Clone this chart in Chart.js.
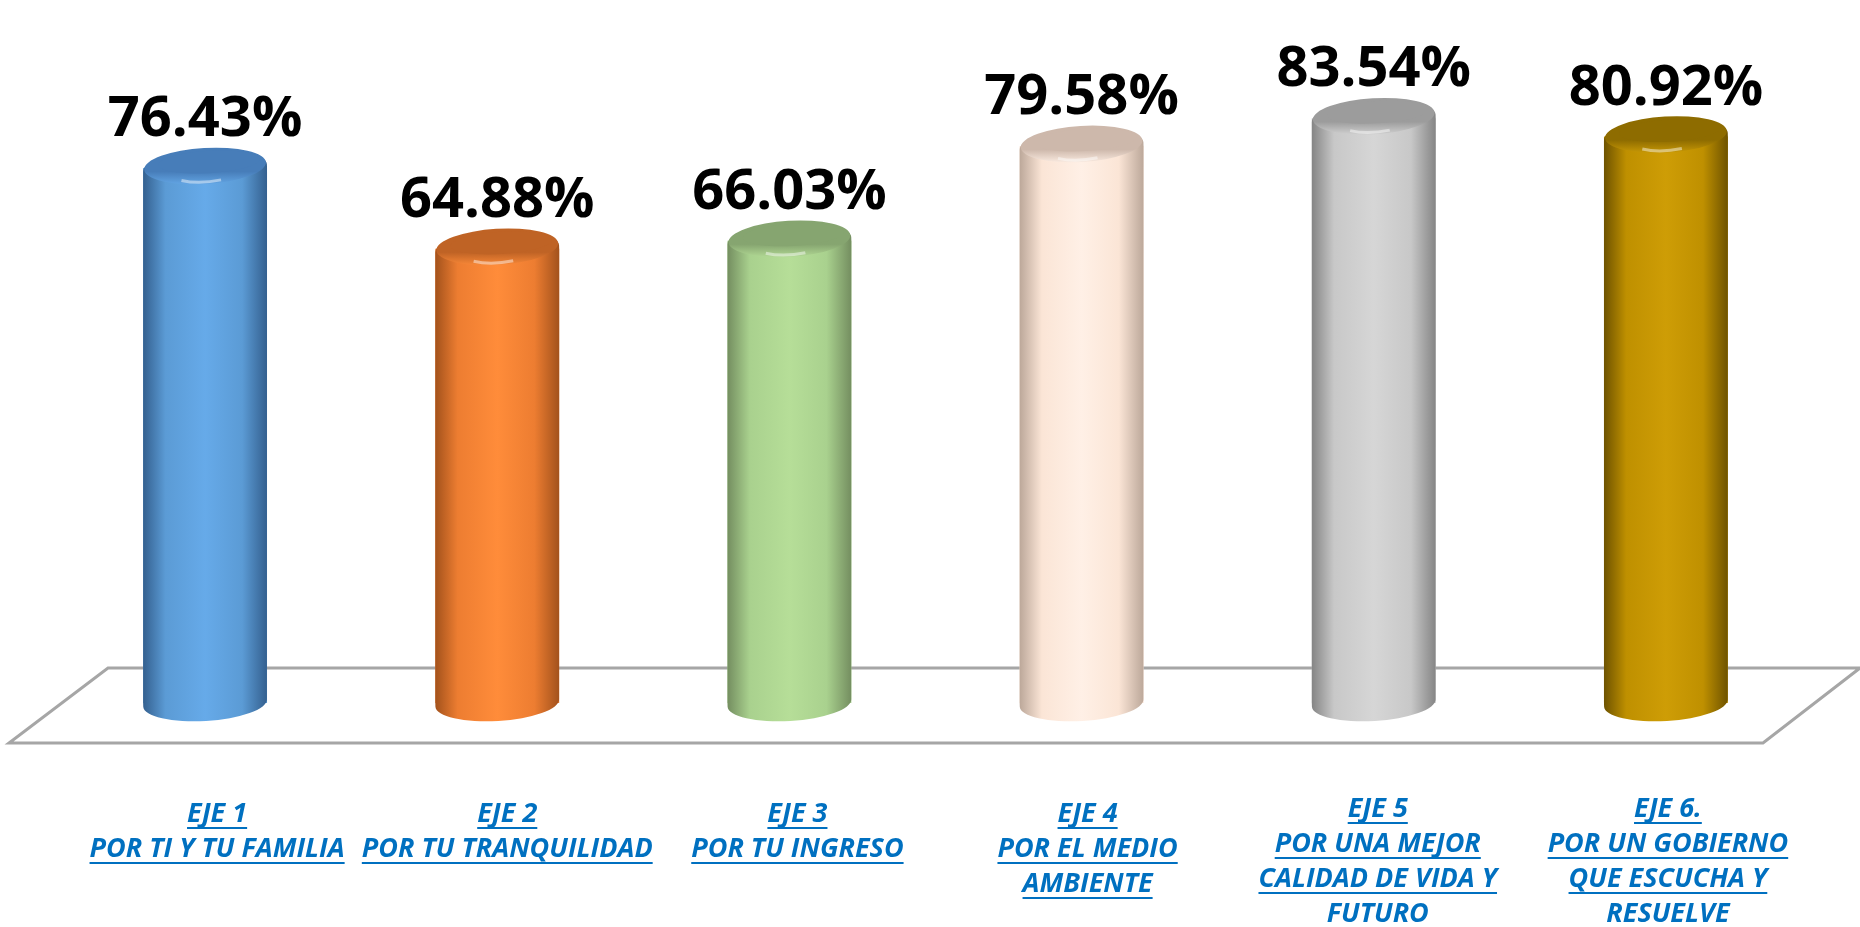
<!DOCTYPE html>
<html>
<head>
<meta charset="utf-8">
<script src="https://cdn.jsdelivr.net/npm/chart.js@4.4.1/dist/chart.umd.min.js"></script>
<style>
html,body{margin:0;padding:0;background:#ffffff;}
#wrap{position:relative;width:1860px;height:927px;}
</style>
</head>
<body>
<div id="wrap"><canvas id="c"></canvas></div>
<script>
// ---- data ----
const categories = [
  ["EJE 1", "POR TI Y TU FAMILIA"],
  ["EJE 2", "POR TU TRANQUILIDAD"],
  ["EJE 3", "POR TU INGRESO"],
  ["EJE 4", "POR EL MEDIO", "AMBIENTE"],
  ["EJE 5", "POR UNA MEJOR", "CALIDAD DE VIDA Y", "FUTURO"],
  ["EJE 6.", "POR UN GOBIERNO", "QUE ESCUCHA Y", "RESUELVE"]
];
const values = [76.43, 64.88, 66.03, 79.58, 83.54, 80.92];

// ---- styles ----
const baseColors  = ["#5B9BD5", "#ED7D31", "#A9D18E", "#FBE5D6", "#C8C8C8", "#BF9000"];
const lightColors = ["#66AAE9", "#FF8C3A", "#B6DE98", "#FFF0E6", "#D6D6D6", "#CE9D06"];
const darkColors  = ["#34608F", "#A3521C", "#748E60", "#BCA89A", "#858585", "#6E5300"];
const topColors   = ["#477DB9", "#BF6325", "#86A570", "#CDB8AB", "#9C9C9C", "#8E6C00"];
const labelBlue = "#0070C0";

const cylinderPlugin = {
  id: 'cylinders',
  beforeDatasetsDraw(chart) {
    const ctx = chart.ctx, a = chart.chartArea;
    const back = a.bottom - 35, front = a.bottom + 40;
    ctx.save();
    ctx.beginPath();
    ctx.moveTo(a.left + 49, back);
    ctx.lineTo(a.right + 48, back);
    ctx.lineTo(a.right - 49, front);
    ctx.lineTo(a.left - 50, front);
    ctx.closePath();
    ctx.fillStyle = '#ffffff';
    ctx.fill();
    ctx.strokeStyle = '#A6A6A6';
    ctx.lineWidth = 3;
    ctx.lineJoin = 'miter';
    ctx.stroke();
    ctx.restore();
  },
  afterDatasetsDraw(chart) {
    const ctx = chart.ctx;
    const meta = chart.getDatasetMeta(0);
    meta.data.forEach((bar, i) => {
      const x = bar.x, y = bar.y, base = bar.base, rx = bar.width / 2, ry = 18, rot = -0.06;
      ctx.save();
      // body
      const g = ctx.createLinearGradient(x - rx, 0, x + rx, 0);
      g.addColorStop(0, darkColors[i]);
      g.addColorStop(0.18, baseColors[i]);
      g.addColorStop(0.5, lightColors[i]);
      g.addColorStop(0.8, baseColors[i]);
      g.addColorStop(1, darkColors[i]);
      ctx.beginPath();
      ctx.moveTo(x - rx, y);
      ctx.lineTo(x - rx, base);
      ctx.ellipse(x, base, rx, ry, rot, Math.PI, 0, true);
      ctx.lineTo(x + rx, y);
      ctx.ellipse(x, y, rx, ry, rot, 0, Math.PI, true);
      ctx.closePath();
      ctx.fillStyle = g;
      ctx.fill();
      // top cap (bevel)
      const tg = ctx.createLinearGradient(0, y - ry, 0, y + ry);
      tg.addColorStop(0, topColors[i]);
      tg.addColorStop(0.6, topColors[i]);
      tg.addColorStop(1, lightColors[i]);
      ctx.beginPath();
      ctx.ellipse(x, y - 2, rx - 1, ry, rot, 0, Math.PI * 2);
      ctx.fillStyle = tg;
      ctx.fill();
      ctx.beginPath();
      ctx.ellipse(x + 4, y - 6, rx * 0.82, ry * 0.62, rot, 0, Math.PI * 2);
      ctx.fillStyle = topColors[i];
      ctx.fill();
      // front highlight on bevel
      ctx.beginPath();
      ctx.ellipse(x, y + 4, rx * 0.55, ry * 0.55, rot, 0.35 * Math.PI, 0.75 * Math.PI);
      ctx.strokeStyle = 'rgba(255,255,255,0.45)';
      ctx.lineWidth = 3;
      ctx.stroke();
      // value label
      ctx.fillStyle = '#000000';
      ctx.font = 'bold 56px "Open Sans", "DejaVu Sans", sans-serif';
      ctx.textAlign = 'center';
      ctx.textBaseline = 'alphabetic';
      ctx.fillText(values[i].toFixed(2) + '%', x, y - ry - 14);
      ctx.restore();
    });
  },
  afterDraw(chart) {
    const ctx = chart.ctx, a = chart.chartArea, xs = chart.scales.x;
    ctx.save();
    ctx.font = 'italic bold 27px "Open Sans", "DejaVu Sans", sans-serif';
    ctx.fillStyle = labelBlue;
    ctx.strokeStyle = labelBlue;
    ctx.textAlign = 'center';
    ctx.textBaseline = 'middle';
    ctx.lineWidth = 2;
    categories.forEach((lines, i) => {
      const cx = xs.getPixelForValue(i) + 12 - 2 * i;
      const y0 = a.bottom + 111 - (lines.length >= 4 ? 5 : 0);
      lines.forEach((t, k) => {
        const cy = y0 + k * 35;
        ctx.fillText(t, cx, cy);
        const w = ctx.measureText(t).width;
        ctx.beginPath();
        ctx.moveTo(cx - w / 2, cy + 14);
        ctx.lineTo(cx + w / 2, cy + 14);
        ctx.stroke();
      });
    });
    ctx.restore();
  }
};

new Chart(document.getElementById('c'), {
  type: 'bar',
  data: {
    labels: categories,
    datasets: [{
      data: values,
      backgroundColor: baseColors,
      borderWidth: 0,
      barPercentage: 0.424,
      categoryPercentage: 1
    }]
  },
  options: {
    responsive: true,
    maintainAspectRatio: false,
    animation: false,
    layout: { padding: { top: 3, bottom: 224, left: 59, right: 48 } },
    scales: {
      x: { display: false },
      y: { display: false, min: 0, max: 100 }
    },
    plugins: { legend: { display: false }, tooltip: { enabled: false } }
  },
  plugins: [cylinderPlugin]
});
</script>
</body>
</html>
